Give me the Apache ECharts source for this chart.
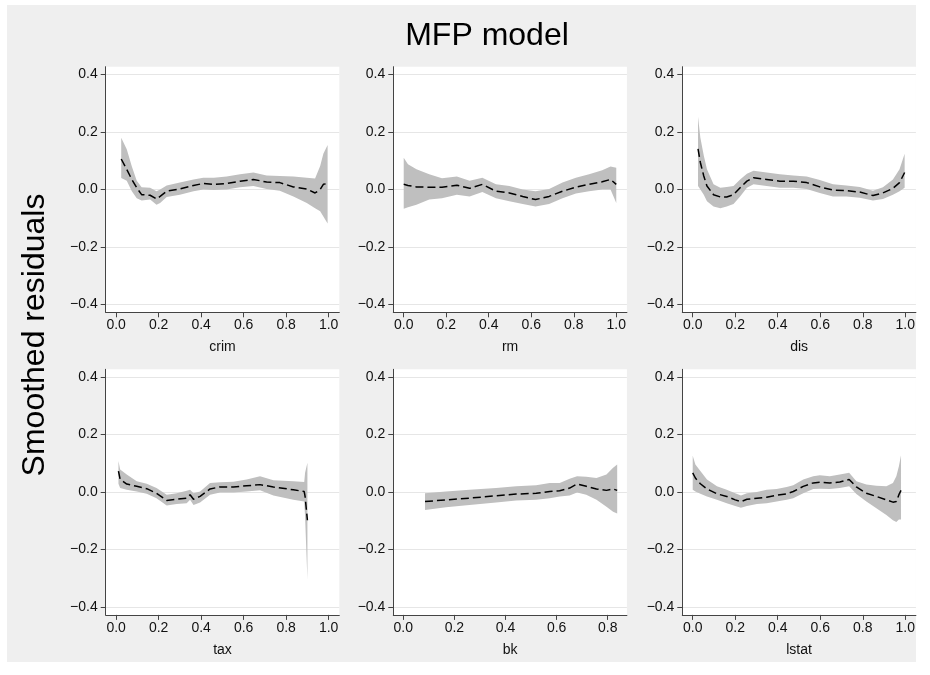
<!DOCTYPE html>
<html><head><meta charset="utf-8">
<script src="https://cdn.jsdelivr.net/npm/echarts@6/dist/echarts.min.js"></script>
<style>
html,body{margin:0;padding:0;background:#fff}
#bg{position:absolute;left:7px;top:5px;width:909px;height:657px;background:#efefef}
#c{position:absolute;left:0;top:0;width:930px;height:675px}
</style>
</head><body><div id="bg"></div><div id="c"></div>
<script>
// ---- data ----
const crimX  = [0.024,0.05,0.074,0.097,0.12,0.16,0.19,0.207,0.238,0.30,0.364,0.41,0.46,0.52,0.583,0.646,0.708,0.77,0.834,0.897,0.936,0.96,0.975,0.995];
const crimFit= [0.106,0.07,0.035,0.006,-0.018,-0.02,-0.033,-0.024,-0.006,0.002,0.014,0.021,0.018,0.021,0.029,0.035,0.026,0.024,0.009,0.002,-0.012,0.0,0.018,0.021];
const crimLo = [0.04,0.03,-0.006,-0.03,-0.038,-0.035,-0.053,-0.047,-0.026,-0.018,-0.006,0.0,-0.002,0.0,0.008,0.012,0.002,-0.004,-0.024,-0.047,-0.065,-0.076,-0.094,-0.118];
const crimHi = [0.18,0.14,0.08,0.03,0.008,0.006,-0.006,0.0,0.014,0.024,0.035,0.041,0.041,0.045,0.053,0.059,0.049,0.047,0.045,0.041,0.038,0.082,0.124,0.155];

const rmX  = [0.0,0.02,0.06,0.12,0.18,0.25,0.31,0.37,0.434,0.497,0.56,0.62,0.684,0.747,0.81,0.872,0.934,0.973,1.0];
const rmFit= [0.018,0.014,0.009,0.008,0.008,0.015,0.004,0.018,-0.006,-0.012,-0.024,-0.035,-0.024,-0.006,0.008,0.018,0.027,0.035,0.018];
const rmLo = [-0.067,-0.062,-0.053,-0.035,-0.03,-0.018,-0.024,-0.009,-0.03,-0.041,-0.05,-0.059,-0.05,-0.03,-0.014,-0.006,0.0,0.0,-0.047];
const rmHi = [0.11,0.088,0.07,0.053,0.039,0.045,0.03,0.041,0.018,0.012,0.0,-0.006,0.002,0.024,0.041,0.053,0.067,0.08,0.076];

const disX  = [0.025,0.036,0.052,0.067,0.098,0.13,0.16,0.192,0.223,0.255,0.286,0.348,0.41,0.473,0.536,0.598,0.66,0.723,0.786,0.848,0.895,0.942,0.973,0.997];
const disFit= [0.141,0.094,0.047,0.012,-0.018,-0.026,-0.026,-0.018,0.006,0.029,0.041,0.035,0.029,0.029,0.024,0.009,-0.002,-0.004,-0.009,-0.021,-0.012,0.004,0.024,0.059];
const disLo = [0.012,0.0,-0.018,-0.041,-0.059,-0.065,-0.059,-0.05,-0.024,0.006,0.018,0.012,0.006,0.006,0.002,-0.012,-0.024,-0.024,-0.029,-0.038,-0.033,-0.018,-0.006,0.006];
const disHi = [0.253,0.18,0.118,0.07,0.018,0.006,0.009,0.012,0.035,0.055,0.065,0.059,0.053,0.049,0.045,0.033,0.018,0.014,0.009,-0.004,0.008,0.035,0.07,0.124];

const taxX  = [0.011,0.019,0.05,0.097,0.144,0.19,0.238,0.285,0.332,0.348,0.364,0.395,0.442,0.489,0.552,0.614,0.677,0.74,0.834,0.885,0.889,0.9];
const taxFit= [0.073,0.044,0.028,0.02,0.012,-0.004,-0.029,-0.025,-0.021,-0.009,-0.025,-0.015,0.011,0.018,0.018,0.022,0.026,0.018,0.008,0.002,-0.015,-0.098];
const taxLo = [0.029,0.014,0.008,0.002,-0.006,-0.021,-0.047,-0.041,-0.039,-0.027,-0.045,-0.036,-0.009,-0.001,-0.001,0.002,0.006,-0.012,-0.027,-0.033,-0.086,-0.304];
const taxHi = [0.108,0.079,0.061,0.038,0.029,0.014,-0.009,-0.004,0.005,0.008,-0.004,0.002,0.032,0.034,0.036,0.044,0.055,0.041,0.038,0.035,0.067,0.102];

const bkX  = [0.085,0.167,0.259,0.363,0.442,0.52,0.573,0.612,0.651,0.68,0.716,0.756,0.795,0.821,0.837];
const bkFit= [-0.033,-0.027,-0.021,-0.013,-0.007,-0.004,0.002,0.005,0.014,0.028,0.02,0.011,0.006,0.011,0.006];
const bkLo = [-0.062,-0.053,-0.045,-0.036,-0.029,-0.027,-0.021,-0.015,-0.012,-0.001,-0.009,-0.027,-0.051,-0.068,-0.074];
const bkHi = [-0.004,0.002,0.008,0.014,0.02,0.024,0.032,0.032,0.046,0.055,0.053,0.049,0.061,0.085,0.096];

const lstatX  = [0.0,0.0125,0.036,0.067,0.114,0.16,0.2,0.227,0.255,0.302,0.348,0.395,0.442,0.473,0.52,0.567,0.598,0.645,0.692,0.736,0.77,0.817,0.864,0.911,0.942,0.958,0.97,0.98];
const lstatFit= [0.067,0.049,0.029,0.011,-0.006,-0.015,-0.027,-0.033,-0.025,-0.021,-0.018,-0.011,-0.006,0.002,0.02,0.032,0.034,0.032,0.035,0.044,0.018,-0.004,-0.015,-0.027,-0.035,-0.033,-0.009,0.006];
const lstatLo = [0.008,0.002,-0.006,-0.015,-0.027,-0.039,-0.048,-0.054,-0.048,-0.041,-0.039,-0.033,-0.027,-0.021,-0.004,0.011,0.012,0.011,0.014,0.02,-0.007,-0.033,-0.056,-0.08,-0.098,-0.104,-0.095,-0.095];
const lstatHi = [0.126,0.096,0.073,0.044,0.02,0.008,-0.004,-0.012,-0.004,0.0,0.008,0.011,0.018,0.024,0.044,0.055,0.059,0.055,0.061,0.067,0.038,0.026,0.022,0.02,0.032,0.055,0.09,0.128];

const xTicksFull = [0.0,0.2,0.4,0.6,0.8,1.0];
const xTicksBk   = [0.0,0.2,0.4,0.6,0.8];
const yTicks     = [-0.4,-0.2,0.0,0.2,0.4];
const titleText  = 'MFP model';
const yTitleText = 'Smoothed residuals';

// ---- panels ----
const panels = [
  {name:'crim',  x:crimX,  fit:crimFit,  lo:crimLo,  hi:crimHi,  ticks:xTicksFull, xmin:-0.049, xmax:1.05},
  {name:'rm',    x:rmX,    fit:rmFit,    lo:rmLo,    hi:rmHi,    ticks:xTicksFull, xmin:-0.049, xmax:1.05},
  {name:'dis',   x:disX,   fit:disFit,   lo:disLo,   hi:disHi,   ticks:xTicksFull, xmin:-0.049, xmax:1.05},
  {name:'tax',   x:taxX,   fit:taxFit,   lo:taxLo,   hi:taxHi,   ticks:xTicksFull, xmin:-0.049, xmax:1.05},
  {name:'bk',    x:bkX,    fit:bkFit,    lo:bkLo,    hi:bkHi,    ticks:xTicksBk,   xmin:-0.039, xmax:0.875},
  {name:'lstat', x:lstatX, fit:lstatFit, lo:lstatLo, hi:lstatHi, ticks:xTicksFull, xmin:-0.049, xmax:1.05}
];
const colLeft = [105.7, 393.3, 682.3];
const rowTop  = [66.7, 369.3];
const gw = 233.6, gh = 245.6;
const FONT = "'Liberation Sans', Arial, Helvetica, sans-serif";
const fmt = v => (v < -1e-9 ? '\u2212' : '') + Math.abs(v).toFixed(1);

const grid = [], xAxis = [], yAxis = [], series = [];
panels.forEach((p, i) => {
  const r = Math.floor(i / 3), c = i % 3;
  grid.push({left: colLeft[c], top: rowTop[r], width: gw, height: gh, show: true,
             backgroundColor: '#ffffff', borderWidth: 0, containLabel: false});
  xAxis.push({type: 'value', gridIndex: i, min: p.xmin, max: p.xmax,
    name: p.name, nameLocation: 'middle', nameGap: 28,
    nameTextStyle: {fontFamily: FONT, fontSize: 14, color: '#111'},
    axisLine: {show: true, onZero: false, lineStyle: {color: '#444', width: 1}},
    axisTick: {show: true, inside: false, length: 5, customValues: p.ticks, lineStyle: {color: '#444'}},
    axisLabel: {show: true, customValues: p.ticks, formatter: fmt, margin: 6,
                fontFamily: FONT, fontSize: 14, color: '#111'},
    splitLine: {show: false}});
  yAxis.push({type: 'value', gridIndex: i, min: -0.427, max: 0.427,
    axisLine: {show: true, onZero: false, lineStyle: {color: '#444', width: 1}},
    axisTick: {show: true, inside: false, length: 5, customValues: yTicks, lineStyle: {color: '#444'}},
    axisLabel: {show: true, customValues: yTicks, formatter: fmt, margin: 8,
                fontFamily: FONT, fontSize: 14, color: '#111'},
    splitLine: {show: true, lineStyle: {color: '#e6e6e6', width: 1}}});
  const bandData = p.x.map((v, k) => [v, p.lo[k], p.hi[k]]);
  series.push({type: 'custom', xAxisIndex: i, yAxisIndex: i, silent: true, z: 2,
    data: bandData, encode: {x: 0, y: [1, 2]},
    renderItem: function (params, api) {
      if (params.dataIndex !== 0) return null;
      const pts = [];
      for (let k = 0; k < p.x.length; k++) pts.push(api.coord([p.x[k], p.hi[k]]));
      for (let k = p.x.length - 1; k >= 0; k--) pts.push(api.coord([p.x[k], p.lo[k]]));
      return {type: 'polygon', shape: {points: pts}, style: {fill: '#bfbfbf', stroke: null}};
    }});
  series.push({type: 'line', xAxisIndex: i, yAxisIndex: i, z: 3, silent: true,
    data: p.x.map((v, k) => [v, p.fit[k]]), showSymbol: false, symbol: 'none',
    lineStyle: {color: '#000', width: 1.5, type: [8, 4]}, animation: false});
});

const chart = echarts.init(document.getElementById('c'), null, {renderer: 'canvas'});
chart.setOption({
  backgroundColor: 'transparent',
  animation: false,
  grid, xAxis, yAxis, series,
  graphic: [
    {type: 'text', x: 487, y: 36, style: {text: titleText, fontFamily: FONT, fontSize: 32,
      fill: '#000', align: 'center', verticalAlign: 'middle'}},
    {type: 'text', x: 35, y: 335, rotation: Math.PI / 2, style: {text: yTitleText, fontFamily: FONT,
      fontSize: 32, fill: '#000', align: 'center', verticalAlign: 'middle'}}
  ]
});
</script>
</body></html>
